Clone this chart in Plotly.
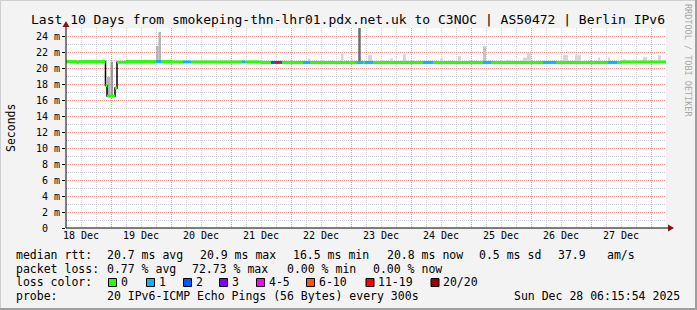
import plotly.graph_objects as go
import pandas as pd

# ---------------- data ----------------
start_time = "2025-12-18 06:00"
end_time = "2025-12-28 06:00"

# median RTT (ms), step changes
med_time = ["2025-12-18 06:00", "2025-12-18 10:24", "2025-12-18 11:12", "2025-12-18 21:48",
            "2025-12-18 22:24", "2025-12-19 01:36", "2025-12-19 02:24", "2025-12-19 06:00",
            "2025-12-20 00:00", "2025-12-21 12:00", "2025-12-27 12:00"]
med_ms = [20.80, 20.70, 20.80, 17.80, 16.50, 17.50, 20.72, 20.80, 20.76, 20.70, 20.74]

# packet loss episodes (pings lost of 20)
loss_start = ["2025-12-19 18:00", "2025-12-20 04:48", "2025-12-21 04:24", "2025-12-21 16:00",
              "2025-12-21 17:36", "2025-12-21 19:12", "2025-12-22 04:48", "2025-12-23 02:24",
              "2025-12-23 05:36", "2025-12-24 04:48", "2025-12-25 04:48", "2025-12-26 04:48",
              "2025-12-27 06:48"]
loss_end = ["2025-12-19 20:00", "2025-12-20 08:00", "2025-12-21 05:36", "2025-12-21 17:36",
            "2025-12-21 19:12", "2025-12-21 20:24", "2025-12-22 07:36", "2025-12-23 04:48",
            "2025-12-23 08:48", "2025-12-24 08:48", "2025-12-25 08:00", "2025-12-26 10:00",
            "2025-12-27 10:24"]
loss_pings = [1, 1, 1, 2, 14, 2, 1, 1, 1, 1, 1, 1, 1]

# smoke (ping spread) bands
smoke_start = ["2025-12-18 22:24", "2025-12-18 23:48", "2025-12-19 18:00", "2025-12-19 19:00",
               "2025-12-22 06:48", "2025-12-22 12:00", "2025-12-22 20:00", "2025-12-23 00:00",
               "2025-12-23 02:54", "2025-12-23 06:48", "2025-12-23 12:24", "2025-12-23 15:36",
               "2025-12-23 20:48", "2025-12-24 00:24", "2025-12-24 11:36", "2025-12-24 18:48",
               "2025-12-24 22:48", "2025-12-25 04:48", "2025-12-25 14:24", "2025-12-25 20:48",
               "2025-12-25 22:24", "2025-12-26 12:48", "2025-12-26 17:36", "2025-12-27 02:48",
               "2025-12-27 06:48", "2025-12-27 12:48", "2025-12-27 16:48", "2025-12-27 20:48",
               "2025-12-28 02:48"]
smoke_end = ["2025-12-18 23:36", "2025-12-19 00:48", "2025-12-19 19:00", "2025-12-19 20:00",
             "2025-12-22 07:36", "2025-12-22 13:12", "2025-12-22 21:00", "2025-12-23 00:48",
             "2025-12-23 03:54", "2025-12-23 08:24", "2025-12-23 13:36", "2025-12-23 16:48",
             "2025-12-23 22:00", "2025-12-24 01:36", "2025-12-24 12:48", "2025-12-24 20:00",
             "2025-12-25 00:00", "2025-12-25 06:00", "2025-12-25 15:36", "2025-12-25 22:24",
             "2025-12-26 00:00", "2025-12-26 14:48", "2025-12-26 20:00", "2025-12-27 03:36",
             "2025-12-27 07:36", "2025-12-27 14:00", "2025-12-27 17:36", "2025-12-27 22:24",
             "2025-12-28 04:00"]
smoke_low = [16.5, 16.5, 20.6, 20.6, 20.6, 20.6, 20.6, 20.6, 20.6, 20.6, 20.6, 20.6, 20.6, 20.6,
             20.6, 20.6, 20.6, 20.6, 20.6, 20.6, 20.6, 20.6, 20.6, 20.6, 20.6, 20.6, 20.6, 20.6, 20.6]
smoke_high = [18.9, 20.8, 22.75, 24.5, 21.2, 21.0, 21.8, 21.1, 25.5, 21.6, 21.0, 21.2, 21.7, 21.0,
              21.2, 21.5, 21.0, 22.7, 21.0, 21.3, 21.9, 21.6, 21.6, 21.3, 21.3, 21.1, 21.0, 21.4, 21.6]
smoke_density = [3, 4, 3, 3, 1, 1, 1, 1, 6, 1, 1, 1, 1, 1, 1, 1, 1, 2, 1, 1, 1, 1, 1, 1, 1, 1, 1, 1, 1]

rtt_stats = [20.7, 20.9, 16.5, 20.8, 0.5, 37.9]
loss_stats = [0.77, 72.73, 0.00, 0.00]
loss_labels = ["0", "1", "2", "3", "4-5", "6-10", "11-19", "20/20"]
probe_text = "20 IPv6-ICMP Echo Pings (56 Bytes) every 300s"
stamp_text = "Sun Dec 28 06:15:54 2025"
title_text = "Last 10 Days from smokeping-thn-lhr01.pdx.net.uk to C3NOC | AS50472 | Berlin IPv6"

# ---------------- styles ----------------
loss_colors = ["#26ff00", "#00b8ff", "#0059ff", "#7e00ff", "#ff00ff", "#ff5500", "#ff0000", "#a10000"]
gray_for_density = {1: "#d6d6d6", 2: "#c4c4c4", 3: "#b4b4b4", 4: "#9a9a9a", 5: "#888888", 6: "#6e6e6e"}
FONT = "DejaVu Sans Mono"
W, H = 697, 310
L, R, T, B = 66, 31, 28, 82
PW, PH = W - L - R, H - T - B


def bucket(p):
    if p <= 0: return 0
    if p == 1: return 1
    if p == 2: return 2
    if p == 3: return 3
    if p <= 5: return 4
    if p <= 10: return 5
    if p <= 19: return 6
    return 7


def px(x):
    return (x - L) / PW


def py(y):
    return (H - B - y) / PH


ts = lambda s: pd.Timestamp(s)
med_t = [ts(t) for t in med_time]


def med_at(t):
    v = med_ms[0]
    for tt, vv in zip(med_t, med_ms):
        if tt <= t:
            v = vv
    return v


def loss_at(t):
    for s, e, p in zip(loss_start, loss_end, loss_pings):
        if ts(s) <= t < ts(e):
            return p
    return 0


bps = sorted(set(med_t + [ts(t) for t in loss_start] + [ts(t) for t in loss_end] + [ts(end_time)]))
seg = {i: ([], []) for i in range(8)}
for a, b in zip(bps[:-1], bps[1:]):
    c = bucket(loss_at(a))
    v = med_at(a)
    seg[c][0].extend([a, b, None])
    seg[c][1].extend([v, v, None])

fig = go.Figure()
# dummy trace on base axes so base subplot (grids) exists
fig.add_trace(go.Scatter(x=[ts(start_time)], y=[None], xaxis="x", yaxis="y",
                         showlegend=False, hoverinfo="skip"))

# smoke
s0 = [ts(s) for s in smoke_start]
s1 = [ts(s) for s in smoke_end]
fig.add_trace(go.Bar(
    x=[a + (b - a) / 2 for a, b in zip(s0, s1)],
    y=[h - l for h, l in zip(smoke_high, smoke_low)],
    base=smoke_low,
    width=[(b - a).total_seconds() * 1000 for a, b in zip(s0, s1)],
    marker=dict(color=[gray_for_density[d] for d in smoke_density], line=dict(width=0)),
    xaxis="x2", yaxis="y", showlegend=False, hoverinfo="skip"))

# thin black median
fig.add_trace(go.Scatter(x=med_t + [ts(end_time)], y=med_ms + [med_ms[-1]], mode="lines",
                         line=dict(color="#000000", width=1.5, shape="hv"),
                         xaxis="x2", yaxis="y", showlegend=False, hoverinfo="skip"))
for c in range(8):
    if seg[c][0]:
        fig.add_trace(go.Scatter(x=seg[c][0], y=seg[c][1], mode="lines",
                                 line=dict(color=loss_colors[c], width=3),
                                 xaxis="x2", yaxis="y", showlegend=False, hoverinfo="skip"))

GRAY = "#cdcdcd"
RED = "#f09090"
DASH = "1px,1px"

shapes = []
ann = []

# frame
shapes += [
    dict(type="rect", xref="paper", yref="paper", x0=px(0), x1=px(W), y0=py(0), y1=py(1),
         fillcolor="#cfcfcf", line=dict(width=0), layer="above"),
    dict(type="rect", xref="paper", yref="paper", x0=px(0), x1=px(1), y0=py(0), y1=py(H),
         fillcolor="#cfcfcf", line=dict(width=0), layer="above"),
    dict(type="rect", xref="paper", yref="paper", x0=px(0), x1=px(W), y0=py(H - 2), y1=py(H),
         fillcolor="#9e9e9e", line=dict(width=0), layer="above"),
    dict(type="rect", xref="paper", yref="paper", x0=px(W - 2), x1=px(W), y0=py(0), y1=py(H),
         fillcolor="#9e9e9e", line=dict(width=0), layer="above"),
]
# axes + arrows
shapes += [
    dict(type="line", xref="paper", yref="paper", x0=px(66), x1=px(670), y0=py(228), y1=py(228),
         line=dict(color="#000000", width=1), layer="above"),
    dict(type="line", xref="paper", yref="paper", x0=px(66), x1=px(66), y0=py(228), y1=py(25),
         line=dict(color="#000000", width=1), layer="above"),
    dict(type="path", xref="paper", yref="paper",
         path=f"M {px(668)} {py(224.5)} L {px(674)} {py(228)} L {px(668)} {py(231.5)} Z",
         fillcolor="#8b1010", line=dict(width=0), layer="above"),
    dict(type="path", xref="paper", yref="paper",
         path=f"M {px(62.5)} {py(27)} L {px(66)} {py(21)} L {px(69.5)} {py(27)} Z",
         fillcolor="#8b1010", line=dict(width=0), layer="above"),
]


def text(s, x, y, size=11.5, anchor="left", color="#000000", angle=0):
    ann.append(dict(text=s, xref="paper", yref="paper", x=px(x), y=py(y), xanchor=anchor,
                    yanchor="middle", showarrow=False, borderpad=0, borderwidth=0,
                    textangle=angle, font=dict(family=FONT, size=size, color=color)))


text(title_text, 347.5, 19, size=13, anchor="center")
text("Seconds", 11, 128, anchor="center", angle=-90)
text("RRDTOOL / TOBI OETIKER", 688, 60, size=8.5, anchor="center", color="#a8a8a8", angle=90)

# legend line 1
y1, y2, y3, y4 = 254.5, 268.5, 282, 296
text("median rtt:", 16, y1)
text(f"{rtt_stats[0]:.1f} ms avg", 107.3, y1)
text(f"{rtt_stats[1]:.1f} ms max", 200, y1)
text(f"{rtt_stats[2]:.1f} ms min", 292.7, y1)
text(f"{rtt_stats[3]:.1f} ms now", 386.7, y1)
text(f"{rtt_stats[4]:.1f} ms sd", 479.3, y1)
text(f"{rtt_stats[5]:.1f}", 558.3, y1)
text("am/s", 606.7, y1)
# legend line 2
text("packet loss:", 16, y2)
text(f"{loss_stats[0]:.2f} % avg", 107.3, y2)
text(f"{loss_stats[1]:.2f} % max", 191.7, y2)
text(f"{loss_stats[2]:.2f} % min", 286.7, y2)
text(f"{loss_stats[3]:.2f} % now", 373, y2)
# legend line 3
text("loss color:", 16, y3)
sq_x = [108, 146, 183, 219, 256, 306, 365.5, 430.5]
for i, lab in enumerate(loss_labels):
    x0 = sq_x[i]
    shapes.append(dict(type="rect", xref="paper", yref="paper", x0=px(x0 + 0.5), x1=px(x0 + 8.5),
                       y0=py(278.5), y1=py(286.5), fillcolor=loss_colors[i],
                       line=dict(color="#000000", width=1), layer="above"))
    text(lab, x0 + 12.5, y3)
# legend line 4
text("probe:", 16, y4)
text(probe_text, 107.3, y4)
text(stamp_text, 680, y4, anchor="right")

fig.update_layout(
    width=W, height=H,
    margin=dict(l=L, r=R, t=T, b=B, pad=0),
    paper_bgcolor="#f3f3f3", plot_bgcolor="#ffffff",
    barmode="overlay",
    shapes=shapes, annotations=ann,
    xaxis=dict(type="date", range=[start_time, end_time],
               tickmode="linear", tick0="2025-12-18 12:00", dtick=86400000, tickformat="%d %b",
               tickfont=dict(family=FONT, size=10, color="#000000"),
               showgrid=True, gridcolor=GRAY, griddash=DASH, gridwidth=1,
               minor=dict(tick0="2025-12-18 00:00", dtick=21600000, showgrid=True,
                          gridcolor=GRAY, griddash=DASH, gridwidth=1),
               ticks="", showline=False, zeroline=False, fixedrange=True),
    xaxis2=dict(type="date", range=[start_time, end_time], overlaying="x", anchor="y",
                tickmode="linear", tick0="2025-12-19 00:00", dtick=86400000,
                showticklabels=False, ticks="",
                showgrid=True, gridcolor=RED, griddash=DASH, gridwidth=1,
                showline=False, zeroline=False),
    yaxis=dict(range=[0, 25], tickmode="array",
               tickvals=[0, 2, 4, 6, 8, 10, 12, 14, 16, 18, 20, 22, 24],
               ticktext=["0\u00a0\u00a0"] + [f"{v} m" for v in range(2, 25, 2)],
               tickfont=dict(family=FONT, size=10, color="#000000"),
               showgrid=True, gridcolor=RED, griddash=DASH, gridwidth=1,
               minor=dict(tick0=0, dtick=1, showgrid=True, gridcolor=GRAY, griddash=DASH, gridwidth=1),
               ticks="outside", ticklen=3, tickcolor="#000000",
               showline=False, zeroline=False),
)

fig.write_html("out.html")
